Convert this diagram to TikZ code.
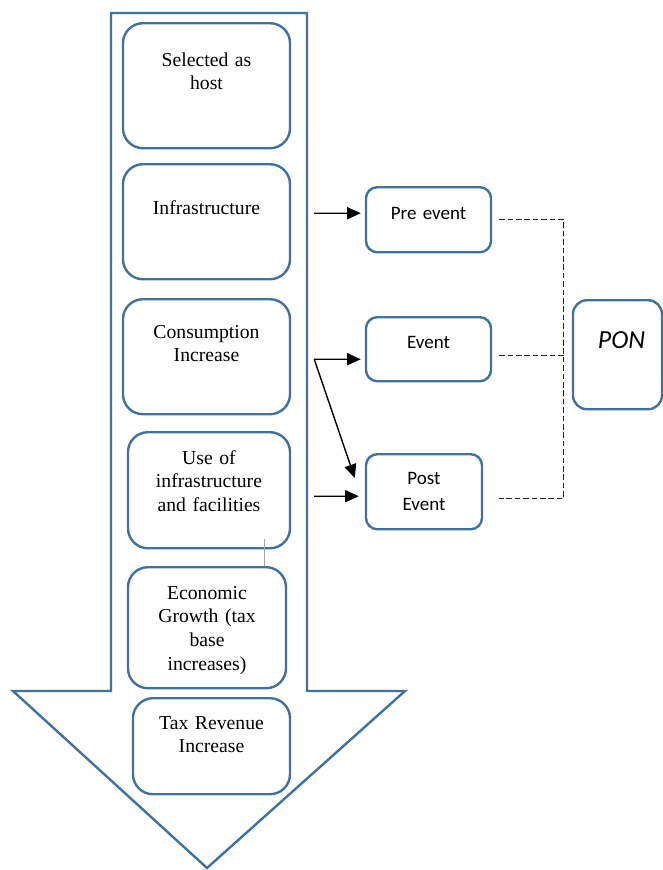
\documentclass[tikz,border=0pt]{standalone}
\usepackage{xcolor}
\usepackage{fontspec}
\setmainfont{Liberation Serif}
\newfontfamily\calfont{Carlito}
\usepackage{tikz}
\usetikzlibrary{shapes, arrows.meta, positioning}
\definecolor{boxblue}{HTML}{41719C}

\begin{document}
\begin{tikzpicture}[
    x=0.025cm, y=-0.025cm,
    % boxes inside the big arrow
    stage/.style={
        rectangle,
        draw=boxblue,
        line width=0.06cm,
        rounded corners=0.5cm,
        inner sep=0pt,
        align=center,
        anchor=north,
        font=\fontsize{14}{16.8}\selectfont
    },
    % boxes on the right
    phase/.style={
        rectangle,
        draw=boxblue,
        line width=0.06cm,
        rounded corners=0.28cm,
        inner sep=0pt,
        align=center,
        anchor=north,
        font=\calfont\fontsize{13.5}{19}\selectfont
    },
    bigarrow/.style={draw=boxblue, line width=0.06cm},
    line/.style={draw, line width=0.035cm, -{Triangle[length=0.34cm, width=0.3cm]}},
    link/.style={draw, black!85, line width=0.035cm, dash pattern=on 0.14cm off 0.07cm}
]
    \useasboundingbox (0,0) rectangle (663,870);

    % Big downward arrow
    \path [bigarrow] (111,13) -- (307,13) -- (307,691) -- (405,691) -- (207,868)
        -- (13,691) -- (111,691) -- cycle;

    % Nodes
    \node [stage, text width=4.175cm, text height=1.075cm, text depth=2.05cm] (host) at (206.5,22) {Selected as\\host};
    \node [stage, text width=4.175cm, text height=1.25cm, text depth=1.625cm] (infra) at (206.5,163) {Infrastructure};
    \node [stage, text width=4.175cm, text height=0.975cm, text depth=1.9cm] (cons) at (206.5,298) {Consumption\\Increase};
    \node [stage, text width=4.05cm, text height=0.8cm, text depth=2.1cm] (use) at (209,431) {Use of\\infrastructure\\and facilities};
    \node [stage, text width=3.95cm, text height=0.8cm, text depth=2.225cm] (econ) at (207,566) {Economic\\Growth (tax\\base\\increases)};
    \node [stage, text width=3.925cm, text height=0.775cm, text depth=1.625cm] (tax) at (211.5,697) {Tax Revenue\\Increase};

    \node [phase, text width=3.125cm, text height=0.8cm, text depth=0.825cm] (pre) at (428.5,186) {Pre event};
    \node [phase, text width=3.125cm, text height=0.775cm, text depth=0.825cm] (event) at (428.5,316) {Event};
    \node [phase, text width=2.9cm, text height=0.75cm, text depth=1.125cm] (post) at (424,453) {Post\\Event};
    \node [phase, text width=2.225cm, text height=1.2cm, text depth=1.525cm, rounded corners=0.35cm,
        font=\calfont\itshape\fontsize{18.5}{22}\selectfont] (pon) at (617.5,299) {\hspace*{0.2cm}PON};

    % Paths (Arrows)
    \coordinate (fork) at ([xshift=0.575cm, yshift=-0.0625cm]cons.east);
    \path [line] ([xshift=0.575cm, yshift=0.2125cm]infra.east) -- ([xshift=-0.1cm, yshift=0.1625cm]pre.west);
    \path [line] (fork) -- ([xshift=-0.1cm, yshift=-0.25cm]event.west);
    \path [line] (fork) -- ([xshift=-0.25cm, yshift=-0.625cm]post.north west);
    \path [line] ([xshift=0.575cm, yshift=-0.15cm]use.east) -- ([xshift=-0.15cm, yshift=-0.1125cm]post.west);

    % Dashed links to PON
    \coordinate (bus) at ([xshift=-0.2cm]pon.west);
    \coordinate (eventend) at ([xshift=0.175cm, yshift=-0.15cm]event.east);
    \coordinate (postend) at ([xshift=0.4cm, yshift=-0.1625cm]post.east);
    \path [link] ([xshift=0.175cm]pre.east) -| (bus |- postend) -- (postend);
    \path [link] (eventend) -- (eventend -| bus);

    % small grey tick between boxes
    \coordinate (tick) at ([xshift=1.375cm, yshift=0.25cm]use.south);
    \draw [gray!70, line width=0.025cm] (tick) -- (tick |- econ.north);
\end{tikzpicture}
\end{document}
